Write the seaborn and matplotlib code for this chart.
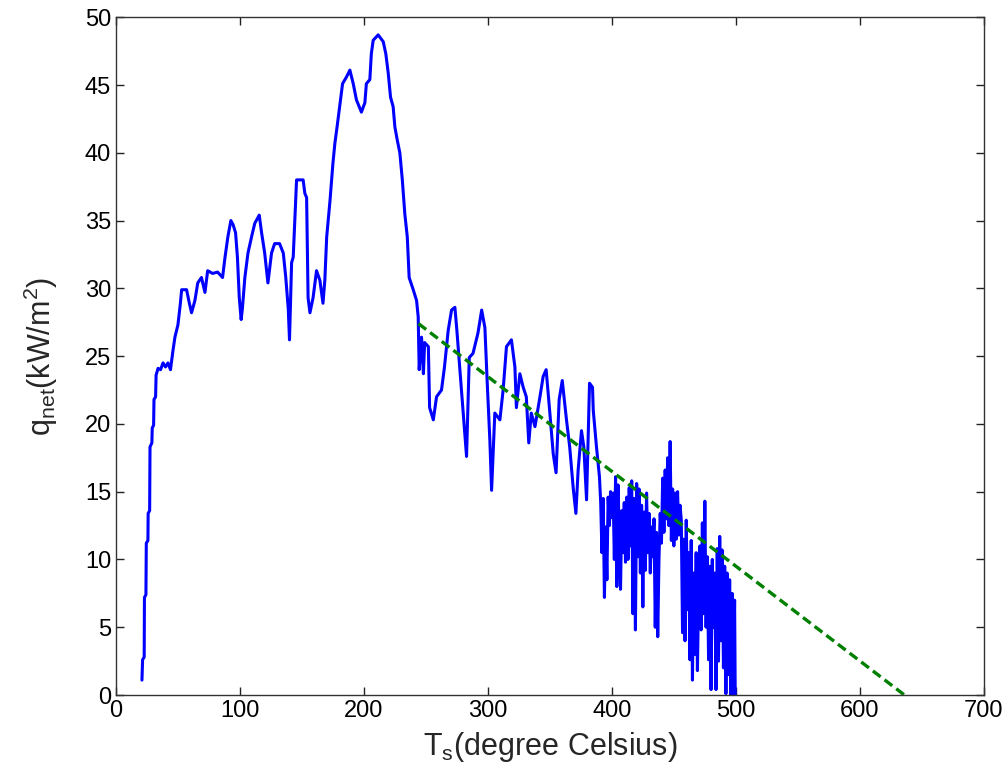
import matplotlib
matplotlib.use("Agg")
import matplotlib.pyplot as plt
import numpy as np
import pandas as pd
import seaborn as sns

# measured surface temperature (degree Celsius) and net heat flux (kW/m^2)
T_s = [21, 21.5, 22.8, 23, 24.2, 24.5, 25.8, 26, 27.2, 27.5, 29, 29.3, 30.4, 30.7, 32, 32.4,
       34, 36, 38, 40, 42, 44, 46, 47.6, 50, 52, 53, 57, 59, 61, 63.7, 66, 69, 71.8, 74, 78, 82, 86,
       88, 90.3, 92.7, 94.5, 96.5, 98, 99.5, 101, 102, 104, 106.5, 109.4, 112, 115.6, 117.5, 120,
       122.6, 125.5, 128, 132, 135, 137, 139, 140, 141.7, 143, 144.4, 145.7, 151, 152.4, 153.8,
       155, 156.5, 159, 161.8, 164.5, 167, 168.5, 170, 172.6, 175, 176.6, 178.5, 180.6, 182.8,
       186, 188.7, 191.4, 194, 198, 200.8, 202, 204.8, 206, 207.5, 211.5, 215.6, 217.7, 219.6,
       221.5, 223.6, 225, 227, 229, 231, 233, 235, 236.5, 239.8, 242.5, 243.8, 244.6, 246.5, 248,
       249, 252, 253, 256, 258.6, 262.6, 265, 268, 270.7, 273.4, 275, 277, 280, 282.8, 285, 288,
       292, 295, 297.6, 299.4, 301.6, 303, 305.6, 309.7, 312.3, 315, 319, 321.8, 323, 325.8,
       328.5, 331, 333, 335, 338, 342, 344.6, 347, 350, 352.7, 355, 357.5, 360, 363.4, 366, 368.8,
       371, 372.8, 375.5, 377.4, 379.6, 382, 384.4, 385, 387.6,
       390, 391, 392, 393, 394, 395, 396, 397, 398, 399, 400, 401, 402, 403, 404, 405, 406, 407,
       408, 409, 410, 411, 412, 413, 414, 415, 416, 417, 418, 419, 420, 421, 422, 423, 424, 425,
       426, 427, 428, 429, 430, 431, 432, 433, 434, 435, 436, 437, 438, 439, 440, 441, 442, 443,
       444, 445, 446, 447, 448, 449, 450, 451, 452, 453, 454, 455, 456, 457, 458, 459, 460, 461,
       462, 463, 464, 465, 466, 467, 468, 469, 470, 471, 472, 473, 474, 475, 476, 477, 478, 479,
       480, 481, 482, 483, 484, 485, 486, 487, 488, 489, 490, 491, 492, 493, 494, 495, 496, 497,
       498, 499, 499.5]
q_net = [1.1, 2.6, 2.8, 7.2, 7.4, 11.2, 11.4, 13.4, 13.6, 18.3, 18.6, 19.7, 19.9, 21.8, 22, 23.6,
         24.1, 24.0, 24.5, 24.2, 24.5, 24.0, 25.4, 26.4, 27.3, 28.9, 29.9, 29.9, 29.0, 28.2, 29.1,
         30.4, 30.8, 29.7, 31.3, 31.1, 31.2, 30.8, 32.3, 33.8, 35.0, 34.7, 34.1, 32.3, 29.3, 27.7,
         28.5, 30.8, 32.6, 33.8, 34.8, 35.4, 34.1, 32.6, 30.4, 32.6, 33.3, 33.3, 32.6, 30.8, 28.5,
         26.2, 31.9, 32.3, 35.3, 38.0, 38.0, 37.0, 36.7, 29.3, 28.2, 29.3, 31.3, 30.6, 28.9, 30.6,
         33.8, 36.4, 39.2, 40.7, 42.0, 43.5, 45.1, 45.6, 46.1, 45.1, 43.9, 43.0, 43.7, 45.1, 45.4,
         47.3, 48.3, 48.7, 48.2, 47.3, 45.9, 44.1, 43.4, 41.9, 40.9, 40.0, 38.0, 35.5, 33.8, 30.8,
         29.9, 29.1, 27.9, 24.0, 26.4, 23.7, 26.0, 25.7, 21.2, 20.3, 22.0, 22.5, 24.2, 26.9, 28.4,
         28.6, 26.9, 24.5, 21.0, 17.6, 24.9, 25.2, 26.7, 28.4, 27.1, 23.2, 18.8, 15.1, 20.8, 20.3,
         22.5, 25.7, 26.2, 24.2, 21.2, 23.7, 22.7, 22.0, 18.6, 20.8, 19.8, 22.0, 23.5, 24.0, 20.8,
         17.8, 16.4, 21.8, 23.2, 20.3, 18.3, 15.3, 13.4, 16.6, 19.5, 18.3, 14.4, 23.0, 22.7, 21.0,
         18.3,
         16.1, 14.2, 10.5, 14.5, 7.2, 12.4, 8.5, 14.6, 12.5, 15.0, 13.1, 14.9, 10.0, 16.1, 8.0,
         15.5, 11.4, 7.8, 13.6, 10.5, 14.2, 9.8, 14.6, 10.0, 15.3, 11.0, 15.8, 6.0, 14.5, 4.8,
         15.6, 10.2, 15.2, 9.0, 14.0, 6.5, 13.5, 9.2, 14.9, 10.5, 13.4, 9.0, 12.4, 10.2, 13.0,
         5.0, 12.0, 4.3, 10.0, 13.4, 11.2, 16.0, 12.0, 16.6, 13.0, 17.5, 12.5, 18.7, 11.4, 15.2,
         11.0, 14.9, 11.5, 15.0, 11.8, 14.0, 12.9, 4.6, 11.5, 4.0, 12.9, 6.3, 10.5, 2.6, 11.4,
         1.1, 9.0, 3.0, 10.5, 1.8, 7.5, 11.0, 4.8, 12.7, 6.0, 14.3, 5.0, 10.2, 2.6, 9.5, 0.4,
         10.0, 5.0, 9.0, 0.4, 10.8, 2.5, 11.7, 4.0, 10.7, 2.0, 9.5, 0.1, 9.0, 1.5, 8.5, 0.0, 7.5,
         0.0, 7.0, 0.0]

# linear fit of the falling branch
fit_T = [244, 636]
fit_q = [27.4, 0.0]

x_ticks = [0, 100, 200, 300, 400, 500, 600, 700]
y_ticks = [0, 5, 10, 15, 20, 25, 30, 35, 40, 45, 50]

sns.set_style("ticks")
plt.rcParams['font.family'] = ['Liberation Sans', 'DejaVu Sans']
plt.rcParams['mathtext.fontset'] = 'custom'
plt.rcParams['mathtext.rm'] = 'Liberation Sans'
plt.rcParams['mathtext.it'] = 'Liberation Sans'

fig = plt.figure(figsize=(10.08, 7.84), dpi=100)
ax = fig.add_axes([0.115, 0.1135, 0.861, 0.8645])

df = pd.DataFrame({'T': T_s, 'q': q_net})
sns.lineplot(data=df, x='T', y='q', sort=False, estimator=None, color='#0000ff',
             linewidth=2.2, ax=ax)
fit_df = pd.DataFrame({'T': fit_T, 'q': fit_q})
sns.lineplot(data=fit_df, x='T', y='q', sort=False, estimator=None, color='#008000',
             linewidth=2.4, ax=ax)
ax.lines[-1].set_dashes([2.9, 1.5])

ax.set_xlim(0, 700)
ax.set_ylim(0, 50)
ax.set_xticks(x_ticks)
ax.set_yticks(y_ticks)
ax.tick_params(direction='in', top=True, right=True, length=6, width=1, labelsize=17,
               colors='#222222', labelcolor='black')
for sp in ax.spines.values():
    sp.set_visible(True)
    sp.set_color('#333333')
    sp.set_linewidth(1.0)
ax.set_xlabel(r'T$_{\mathrm{s}}$(degree Celsius)', fontsize=22, labelpad=6)
ax.set_ylabel(r'q$_{\mathrm{net}}$(kW/m$^{2}$)', fontsize=22, labelpad=18)

fig.savefig('out.png', dpi=100)
